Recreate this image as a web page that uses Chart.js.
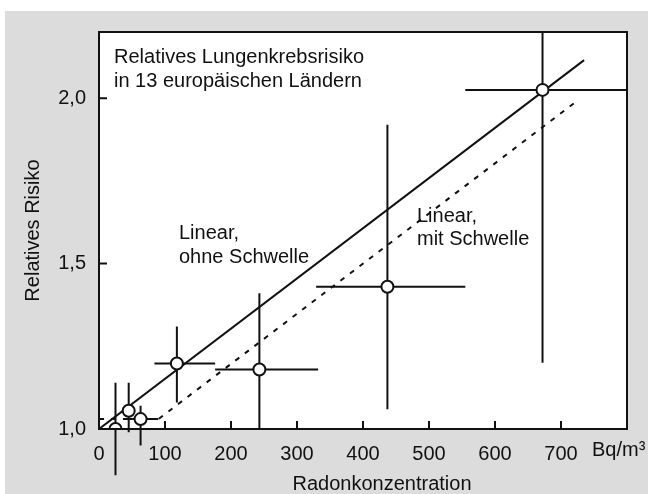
<!DOCTYPE html>
<html lang="de">
<head>
    <meta charset="UTF-8">
    <title>Relatives Lungenkrebsrisiko</title>
    <script src="https://cdn.jsdelivr.net/npm/chart.js"></script>
    <style>
        body {
            margin: 0;
            padding: 0;
            background: #ffffff;
        }
        #radonChart {
            display: block;
        }
    </style>
</head>
<body>
    <canvas id="radonChart" width="648" height="494"></canvas>

    <script>
        // Messpunkte (Bq/m³ und relatives Risiko)
        const radon     = [25, 45, 63, 118, 243, 437, 672];
        const risk      = [1.00, 1.055, 1.03, 1.198, 1.18, 1.43, 2.025];
        const radonLow  = [12, 40, 40, 84, 176, 329, 555];
        const radonHigh = [38, 50, 90, 176, 332, 555, 830];
        const riskLow   = [0.86, 0.99, 0.95, 1.08, 1.00, 1.06, 1.20];
        const riskHigh  = [1.14, 1.14, 1.07, 1.31, 1.41, 1.92, 2.40];

        // Modellgeraden
        const linearX    = [0, 735];
        const linearY    = [1.0, 2.115];
        const thresholdX = [0, 90, 720];
        const thresholdY = [1.03, 1.03, 1.985];

        // Achsen
        const xTicks = [0, 100, 200, 300, 400, 500, 600, 700];
        const yTicks = [1.0, 1.5, 2.0];

        const fontFamily = "'Liberation Sans', Arial, sans-serif";
        const ink = '#111111';

        const toXY = (xs, ys) => xs.map((x, i) => ({ x: x, y: ys[i] }));

        // Hintergrund, Fehlerbalken, Rahmen und Beschriftungen
        const paperPlugin = {
            id: 'paper',
            beforeDraw(chart) {
                const ctx = chart.ctx;
                const a = chart.chartArea;
                ctx.save();
                ctx.fillStyle = '#ffffff';
                ctx.fillRect(0, 0, chart.width, chart.height);
                ctx.fillStyle = '#dcdcdc';
                ctx.fillRect(5, 11, chart.width - 5, chart.height - 11);
                ctx.fillStyle = '#ffffff';
                ctx.fillRect(a.left, a.top, a.right - a.left, a.bottom - a.top);
                ctx.restore();
            },
            beforeDatasetsDraw(chart) {
                const ctx = chart.ctx;
                const a = chart.chartArea;
                const xs = chart.scales.x;
                const ys = chart.scales.y;
                ctx.save();
                ctx.beginPath();
                ctx.rect(a.left, a.top, a.right - a.left, a.bottom - a.top + 60);
                ctx.clip();
                ctx.strokeStyle = ink;
                ctx.lineWidth = 2;
                radon.forEach((r, i) => {
                    const px = xs.getPixelForValue(r);
                    const py = ys.getPixelForValue(risk[i]);
                    ctx.beginPath();
                    ctx.moveTo(px, ys.getPixelForValue(riskLow[i]));
                    ctx.lineTo(px, ys.getPixelForValue(riskHigh[i]));
                    ctx.moveTo(xs.getPixelForValue(radonLow[i]), py);
                    ctx.lineTo(xs.getPixelForValue(radonHigh[i]), py);
                    ctx.stroke();
                });
                ctx.restore();
            },
            afterDraw(chart) {
                const ctx = chart.ctx;
                const a = chart.chartArea;
                const xs = chart.scales.x;
                const ys = chart.scales.y;
                ctx.save();
                ctx.strokeStyle = ink;
                ctx.lineWidth = 2;
                ctx.strokeRect(a.left, a.top, a.right - a.left, a.bottom - a.top);

                // Teilstriche nach innen
                ctx.beginPath();
                xTicks.forEach(v => {
                    if (v === 0) return;
                    const px = xs.getPixelForValue(v);
                    ctx.moveTo(px, a.bottom);
                    ctx.lineTo(px, a.bottom - 8);
                });
                yTicks.forEach(v => {
                    if (v === 1.0) return;
                    const py = ys.getPixelForValue(v);
                    ctx.moveTo(a.left, py);
                    ctx.lineTo(a.left + 8, py);
                });
                ctx.stroke();

                ctx.fillStyle = ink;
                ctx.font = '20px ' + fontFamily;
                ctx.textBaseline = 'alphabetic';
                ctx.textAlign = 'left';
                ctx.fillText('Relatives Lungenkrebsrisiko', 114, 63);
                ctx.fillText('in 13 europäischen Ländern', 114, 87);
                ctx.fillText('Linear,', 179, 239);
                ctx.fillText('ohne Schwelle', 179, 263);
                ctx.fillText('Linear,', 417, 222);
                ctx.fillText('mit Schwelle', 417, 245);
                ctx.fillText('Bq/m³', 592, 456);
                ctx.textAlign = 'center';
                ctx.fillText('Radonkonzentration', 382, 490);
                ctx.restore();
            }
        };

        const ctx = document.getElementById('radonChart').getContext('2d');
        const radonChart = new Chart(ctx, {
            type: 'scatter',
            data: {
                datasets: [
                    {
                        label: 'Messwerte',
                        data: toXY(radon, risk),
                        showLine: false,
                        pointRadius: 6,
                        pointBorderWidth: 2,
                        pointBackgroundColor: '#ffffff',
                        pointBorderColor: ink
                    },
                    {
                        label: 'Linear, ohne Schwelle',
                        data: toXY(linearX, linearY),
                        showLine: true,
                        pointRadius: 0,
                        borderColor: ink,
                        borderWidth: 2
                    },
                    {
                        label: 'Linear, mit Schwelle',
                        data: toXY(thresholdX, thresholdY),
                        showLine: true,
                        pointRadius: 0,
                        borderColor: ink,
                        borderWidth: 2,
                        borderDash: [5, 7]
                    }
                ]
            },
            options: {
                responsive: false,
                animation: false,
                devicePixelRatio: 1,
                layout: {
                    padding: { left: 0, top: 32, right: 21, bottom: 0 }
                },
                plugins: {
                    legend: { display: false },
                    tooltip: { enabled: false }
                },
                scales: {
                    x: {
                        type: 'linear',
                        min: 0,
                        max: 800,
                        grid: { display: false, drawTicks: false },
                        border: { display: false },
                        afterBuildTicks: scale => {
                            scale.ticks = xTicks.map(v => ({ value: v }));
                        },
                        afterFit: scale => { scale.height = 65; },
                        ticks: {
                            padding: 13,
                            color: ink,
                            maxRotation: 0,
                            autoSkip: false,
                            font: { family: fontFamily, size: 20 },
                            callback: v => String(v)
                        }
                    },
                    y: {
                        type: 'linear',
                        min: 1.0,
                        max: 2.2,
                        grid: { display: false, drawTicks: false },
                        border: { display: false },
                        afterBuildTicks: scale => {
                            scale.ticks = yTicks.map(v => ({ value: v }));
                        },
                        afterFit: scale => { scale.width = 99; },
                        ticks: {
                            padding: 13,
                            color: ink,
                            font: { family: fontFamily, size: 20 },
                            callback: v => v.toFixed(1).replace('.', ',')
                        },
                        title: {
                            display: true,
                            text: 'Relatives Risiko',
                            color: ink,
                            padding: { top: 21, bottom: 0 },
                            font: { family: fontFamily, size: 20 }
                        }
                    }
                }
            },
            plugins: [paperPlugin]
        });
    </script>
</body>
</html>
